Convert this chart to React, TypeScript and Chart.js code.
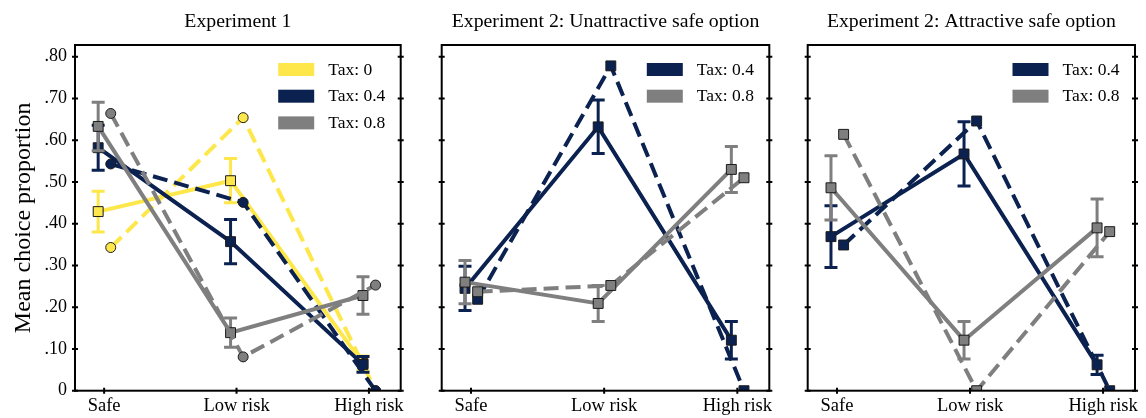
import React, { useEffect, useRef } from 'react';
import { Chart, registerables } from 'chart.js';

Chart.register(...registerables);

// ---------- data ----------
const categories = ['Safe', 'Low risk', 'High risk'];
const yTickValues = [0, 0.1, 0.2, 0.3, 0.4, 0.5, 0.6, 0.7, 0.8];
const yTickLabels = ['0', '.10', '.20', '.30', '.40', '.50', '.60', '.70', '.80'];
const panelTitles = [
  'Experiment 1',
  'Experiment 2: Unattractive safe option',
  'Experiment 2: Attractive safe option',
];
const yAxisTitle = 'Mean choice proportion';
const taxLabels = ['Tax: 0', 'Tax: 0.4', 'Tax: 0.8'];

// Experiment 1
const exp1Tax0Observed = [0.429, 0.503, 0.065];
const exp1Tax0Error = [0.049, 0.053, 0.018];
const exp1Tax0Model = [0.343, 0.654, 0.0];
const exp1Tax04Observed = [0.582, 0.357, 0.063];
const exp1Tax04Error = [0.054, 0.053, 0.019];
const exp1Tax04Model = [0.543, 0.451, 0.0];
const exp1Tax08Observed = [0.633, 0.139, 0.228];
const exp1Tax08Error = [0.058, 0.035, 0.045];
const exp1Tax08Model = [0.664, 0.081, 0.253];

// Experiment 2: unattractive safe option
const exp2uTax04Observed = [0.245, 0.632, 0.121];
const exp2uTax04Error = [0.053, 0.064, 0.045];
const exp2uTax04Model = [0.219, 0.778, 0.0];
const exp2uTax08Observed = [0.26, 0.209, 0.53];
const exp2uTax08Error = [0.052, 0.043, 0.055];
const exp2uTax08Model = [0.237, 0.252, 0.51];

// Experiment 2: attractive safe option
const exp2aTax04Observed = [0.369, 0.567, 0.062];
const exp2aTax04Error = [0.074, 0.077, 0.023];
const exp2aTax04Model = [0.349, 0.646, 0.0];
const exp2aTax08Observed = [0.486, 0.121, 0.39];
const exp2aTax08Error = [0.077, 0.045, 0.069];
const exp2aTax08Model = [0.614, 0.0, 0.381];

// ---------- styles ----------
const FONT = "'Liberation Serif', 'Times New Roman', Times, serif";
const YELLOW = '#FDE74A';
const NAVY = '#0B2251';
const GRAY = '#7F7F7F';
const OBS_DODGE = -0.045;
const MODEL_DODGE = 0.05;
const X_MIN = -0.22;
const X_MAX = 2.24;
const Y_MIN = 0;
const Y_MAX = 0.828;

type Series = {
  label: string;
  color: string;
  observed: number[];
  error: number[];
  model: number[];
};

type Panel = {
  title: string;
  series: Series[];
  modelMarker: 'circle' | 'rect';
  showY: boolean;
  left: number;
  width: number;
  padLeft: number;
  padRight: number;
};

const panels: Panel[] = [
  {
    title: panelTitles[0],
    series: [
      { label: taxLabels[0], color: YELLOW, observed: exp1Tax0Observed, error: exp1Tax0Error, model: exp1Tax0Model },
      { label: taxLabels[1], color: NAVY, observed: exp1Tax04Observed, error: exp1Tax04Error, model: exp1Tax04Model },
      { label: taxLabels[2], color: GRAY, observed: exp1Tax08Observed, error: exp1Tax08Error, model: exp1Tax08Model },
    ],
    modelMarker: 'circle',
    showY: true,
    left: 0,
    width: 420,
    padLeft: 0,
    padRight: 19.3,
  },
  {
    title: panelTitles[1],
    series: [
      { label: taxLabels[1], color: NAVY, observed: exp2uTax04Observed, error: exp2uTax04Error, model: exp2uTax04Model },
      { label: taxLabels[2], color: GRAY, observed: exp2uTax08Observed, error: exp2uTax08Error, model: exp2uTax08Model },
    ],
    modelMarker: 'rect',
    showY: false,
    left: 420,
    width: 366,
    padLeft: 21.7,
    padRight: 16.7,
  },
  {
    title: panelTitles[2],
    series: [
      { label: taxLabels[1], color: NAVY, observed: exp2aTax04Observed, error: exp2aTax04Error, model: exp2aTax04Model },
      { label: taxLabels[2], color: GRAY, observed: exp2aTax08Observed, error: exp2aTax08Error, model: exp2aTax08Model },
    ],
    modelMarker: 'rect',
    showY: false,
    left: 786,
    width: 360,
    padLeft: 21.7,
    padRight: 11,
  },
];

const panelPlugin = {
  id: 'panelDecor',
  beforeDatasetDraw(chart: any, args: any) {
    const ds = chart.data.datasets[args.index];
    const errs: number[] | undefined = ds.errorBars;
    if (!errs) return;
    const ctx = chart.ctx;
    const ys = chart.scales.y;
    const area = chart.chartArea;
    ctx.save();
    ctx.beginPath();
    ctx.rect(area.left, area.top, area.right - area.left, area.bottom - area.top);
    ctx.clip();
    ctx.strokeStyle = ds.borderColor;
    ctx.lineWidth = 3;
    ctx.lineCap = 'butt';
    args.meta.data.forEach((pt: any, i: number) => {
      const v = ds.data[i].y;
      const e = errs[i];
      const x = pt.x;
      const yTop = ys.getPixelForValue(v + e);
      const yBot = ys.getPixelForValue(v - e);
      const cap = 6.5;
      ctx.beginPath();
      ctx.moveTo(x, yTop);
      ctx.lineTo(x, yBot);
      ctx.moveTo(x - cap, yTop);
      ctx.lineTo(x + cap, yTop);
      ctx.moveTo(x - cap, yBot);
      ctx.lineTo(x + cap, yBot);
      ctx.stroke();
    });
    ctx.restore();
  },
  afterDraw(chart: any, _args: any, opts: any) {
    const ctx = chart.ctx;
    const area = chart.chartArea;
    const xs = chart.scales.x;
    const ys = chart.scales.y;
    ctx.save();
    // frame
    ctx.strokeStyle = '#000';
    ctx.lineWidth = 2;
    ctx.strokeRect(area.left, area.top, area.right - area.left, area.bottom - area.top);
    // ticks
    ctx.beginPath();
    yTickValues.forEach((v) => {
      const y = ys.getPixelForValue(v);
      ctx.moveTo(area.left - 3, y);
      ctx.lineTo(area.left + 3, y);
      ctx.moveTo(area.right - 3, y);
      ctx.lineTo(area.right + 3, y);
    });
    categories.forEach((_, i) => {
      const x = xs.getPixelForValue(i);
      ctx.moveTo(x, area.bottom - 3);
      ctx.lineTo(x, area.bottom + 3);
    });
    ctx.stroke();
    // title
    ctx.fillStyle = '#000';
    ctx.font = `19.8px ${FONT}`;
    ctx.textAlign = 'center';
    ctx.textBaseline = 'middle';
    ctx.fillText(opts.title, (area.left + area.right) / 2, 21.5);
    // legend
    const items = chart.data.datasets.filter((d: any) => d.inLegend);
    ctx.font = `17.5px ${FONT}`;
    ctx.textAlign = 'left';
    items.forEach((d: any, i: number) => {
      const bx = area.right - 122.5;
      const by = area.top + 18 + i * 26.7;
      ctx.fillStyle = d.borderColor;
      ctx.fillRect(bx, by, 36, 13);
      ctx.fillStyle = '#000';
      ctx.fillText(d.label, bx + 50, by + 7);
    });
    ctx.restore();
  },
};

function buildDatasets(panel: Panel) {
  const out: any[] = [];
  panel.series.forEach((s) => {
    out.push({
      label: s.label,
      inLegend: true,
      errorBars: s.error,
      data: s.observed.map((v, i) => ({ x: i + OBS_DODGE, y: v })),
      borderColor: s.color,
      backgroundColor: s.color,
      borderWidth: 4,
      pointStyle: 'rect',
      pointRadius: 7,
      pointBorderColor: '#1a1a1a',
      pointBorderWidth: 1,
      pointBackgroundColor: s.color,
      tension: 0,
    });
    out.push({
      label: s.label + ' (model)',
      inLegend: false,
      data: s.model.map((v, i) => ({ x: i + MODEL_DODGE, y: v })),
      borderColor: s.color,
      backgroundColor: s.color,
      borderWidth: 4,
      borderDash: [15, 7],
      pointStyle: panel.modelMarker,
      pointRadius: panel.modelMarker === 'circle' ? 5 : 7,
      pointBorderColor: '#1a1a1a',
      pointBorderWidth: 1,
      pointBackgroundColor: s.color,
      tension: 0,
    });
  });
  const n = out.length;
  out.forEach((d, i) => (d.order = n - i));
  return out;
}

function PanelChart({ panel }: { panel: Panel }) {
  const ref = useRef<HTMLCanvasElement | null>(null);
  useEffect(() => {
    if (!ref.current) return;
    const chart = new Chart(ref.current, {
      type: 'line',
      data: { datasets: buildDatasets(panel) },
      plugins: [panelPlugin as any],
      options: {
        animation: false,
        responsive: false,
        devicePixelRatio: 1,
        layout: { padding: { top: 45, left: panel.padLeft, right: panel.padRight, bottom: 0 } },
        plugins: {
          legend: { display: false },
          tooltip: { enabled: false },
          title: { display: false },
          panelDecor: { title: panel.title },
        } as any,
        scales: {
          x: {
            type: 'linear',
            min: X_MIN,
            max: X_MAX,
            grid: { display: false, drawTicks: false },
            border: { display: false },
            afterBuildTicks: (s: any) => {
              s.ticks = categories.map((_, i) => ({ value: i }));
            },
            afterFit: (s: any) => {
              s.height = 27.3;
            },
            ticks: {
              autoSkip: false,
              maxRotation: 0,
              padding: 4,
              color: '#000',
              font: { family: FONT, size: 18.5 },
              callback: (_v: any, i: number) => categories[i],
            },
          } as any,
          y: {
            type: 'linear',
            display: panel.showY,
            min: Y_MIN,
            max: Y_MAX,
            grid: { display: false, drawTicks: false },
            border: { display: false },
            afterBuildTicks: (s: any) => {
              s.ticks = yTickValues.map((v) => ({ value: v }));
            },
            afterFit: (s: any) => {
              s.width = panel.showY ? 75 : 0;
            },
            ticks: {
              padding: 8,
              color: '#000',
              font: { family: FONT, size: 18 },
              callback: (_v: any, i: number) => yTickLabels[i],
            },
            title: {
              display: true,
              text: yAxisTitle,
              color: '#000',
              font: { family: FONT, size: 24 },
              padding: { top: 9.6, bottom: 0 },
            },
          } as any,
        },
      },
    });
    return () => chart.destroy();
  }, [panel]);
  return (
    <canvas
      ref={ref}
      width={panel.width}
      height={418}
      style={{ position: 'absolute', left: panel.left, top: 0, width: panel.width, height: 418 }}
    />
  );
}

export default function App() {
  return (
    <div style={{ position: 'absolute', left: 0, top: 0, width: 1146, height: 418, background: '#fff' }}>
      {panels.map((p, i) => (
        <PanelChart key={i} panel={p} />
      ))}
    </div>
  );
}
